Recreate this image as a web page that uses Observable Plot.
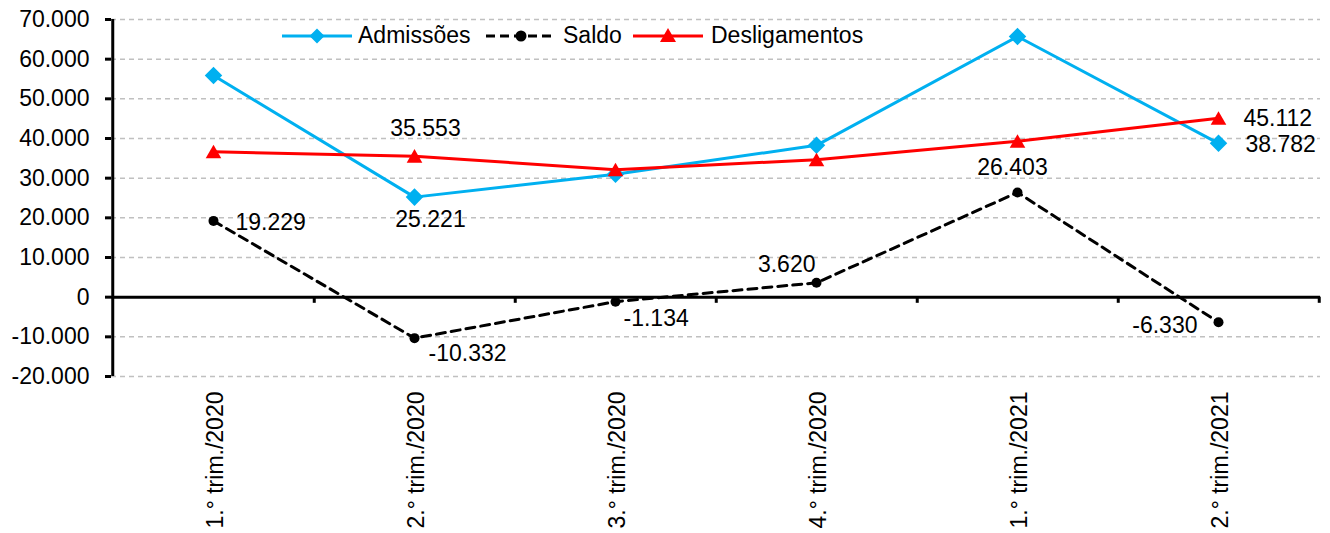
<!DOCTYPE html>
<html>
<head>
<meta charset="utf-8">
<script src="https://cdn.jsdelivr.net/npm/d3@7"></script>
<script src="https://cdn.jsdelivr.net/npm/@observablehq/plot@0.6"></script>
<style>
  html, body { margin: 0; padding: 0; background: #fff; }
  #wrap { position: relative; width: 1330px; height: 533px; font-family: "Liberation Sans", Arial, sans-serif; }
  .leg { position: absolute; font-size: 23px; line-height: 24px; color: #000; white-space: nowrap; }
  .sw { position: absolute; }
</style>
</head>
<body>
<div id="wrap"></div>
<script>
// ---- data ----
const categories = ["1.° trim./2020", "2.° trim./2020", "3.° trim./2020", "4.° trim./2020", "1.° trim./2021", "2.° trim./2021"];
const admissoes = [55879, 25221, 31006, 38280, 65723, 38782];
const desligamentos = [36650, 35553, 32140, 34660, 39320, 45112];
const saldo = [19229, -10332, -1134, 3620, 26403, -6330];
const yTicks = [-20000, -10000, 0, 10000, 20000, 30000, 40000, 50000, 60000, 70000];
const seriesNames = ["Admissões", "Saldo", "Desligamentos"];

// ---- layout / style ----
const W = 1330, H = 533;
const mL = 111, mR = 10, mT = 19, mB = 157;
const step = (W - mL - mR) / categories.length;
const colors = {"Admissões": "#00B0F0", "Saldo": "#000000", "Desligamentos": "#FF0000"};
const labelPlacement = [
  {s: "Saldo", i: 0, a: "start", dx: 22, dy: 2},
  {s: "Saldo", i: 1, a: "start", dx: 14, dy: 15},
  {s: "Saldo", i: 2, a: "start", dx: 8, dy: 17},
  {s: "Saldo", i: 3, a: "end", dx: -1, dy: -18},
  {s: "Saldo", i: 4, a: "middle", dx: -5, dy: -25},
  {s: "Saldo", i: 5, a: "end", dx: -21, dy: 3},
  {s: "Admissões", i: 1, a: "middle", dx: 16, dy: 23},
  {s: "Admissões", i: 5, a: "start", dx: 27, dy: 1},
  {s: "Desligamentos", i: 1, a: "middle", dx: 11, dy: -28},
  {s: "Desligamentos", i: 5, a: "start", dx: 25, dy: 0}
];

const values = {"Admissões": admissoes, "Saldo": saldo, "Desligamentos": desligamentos};
const rows = name => categories.map((c, i) => ({cat: c, v: values[name][i]}));

const loc = d3.formatLocale({decimal: ",", thousands: ".", grouping: [3], currency: ["", ""], minus: "-"});
const fmt = loc.format(",d");

const marks = [
  Plot.gridY(yTicks, {stroke: "#c0c0c0", strokeOpacity: 1, strokeWidth: 1.5, strokeDasharray: "5,4"}),
  Plot.axisY(yTicks, {tickFormat: fmt, tickSize: 6, tickPadding: 16, fontSize: 23, strokeWidth: 3, label: null}),
  Plot.axisX({tickRotate: -90, tickSize: 0, tickPadding: 15, fontSize: 23, dx: 2, label: null}),
  Plot.ruleX([categories[0]], {dx: -step / 2, y1: -20000, y2: 70000, stroke: "#000", strokeWidth: 3}),
  Plot.ruleY([0], {stroke: "#000", strokeWidth: 3}),
  Plot.ruleX(categories, {x: d => d, y1: 0, y2: -1550, dx: step / 2, stroke: "#000", strokeWidth: 3}),
  // Admissões
  Plot.line(rows("Admissões"), {x: "cat", y: "v", stroke: colors["Admissões"], strokeWidth: 3}),
  Plot.dot(rows("Admissões"), {x: "cat", y: "v", symbol: "diamond2", r: 7.9, fill: colors["Admissões"], stroke: "none"}),
  // Saldo
  Plot.line(rows("Saldo"), {x: "cat", y: "v", stroke: colors["Saldo"], strokeWidth: 3, strokeDasharray: "9,6"}),
  Plot.dot(rows("Saldo"), {x: "cat", y: "v", r: 5, fill: colors["Saldo"], stroke: "none"}),
  // Desligamentos
  Plot.line(rows("Desligamentos"), {x: "cat", y: "v", stroke: colors["Desligamentos"], strokeWidth: 3}),
  Plot.dot(rows("Desligamentos"), {x: "cat", y: "v", symbol: "triangle", r: 5.8, fill: colors["Desligamentos"], stroke: "none", dy: 2})
];

for (const p of labelPlacement) {
  const d = [{cat: categories[p.i], v: values[p.s][p.i]}];
  marks.push(Plot.text(d, {x: "cat", y: "v", text: r => fmt(r.v), textAnchor: p.a, dx: p.dx, dy: p.dy, fontSize: 23, fill: "#000"}));
}

const chart = Plot.plot({
  width: W, height: H,
  marginLeft: mL, marginRight: mR, marginTop: mT, marginBottom: mB,
  style: {fontFamily: '"Liberation Sans", Arial, sans-serif', color: "#000", background: "#fff"},
  x: {type: "point", domain: categories, padding: 0.5, align: 0.5},
  y: {domain: [-20000, 70000]},
  marks
});

const wrap = document.getElementById("wrap");
wrap.appendChild(chart);

// ---- legend (overlay) ----
const legendPos = [
  {name: "Admissões", sx: 282, tx: 358},
  {name: "Saldo", sx: 486, tx: 563},
  {name: "Desligamentos", sx: 633, tx: 711}
];
const cy = 36;
for (const lp of legendPos) {
  const c = colors[lp.name];
  const sw = document.createElement("div");
  sw.className = "sw";
  sw.style.left = lp.sx + "px";
  sw.style.top = (cy - 10) + "px";
  let marker;
  if (lp.name === "Admissões") marker = `<polygon points="35,2.5 42.5,10 35,17.5 27.5,10" fill="${c}"/>`;
  else if (lp.name === "Saldo") marker = `<circle cx="35" cy="10" r="5.5" fill="${c}"/>`;
  else marker = `<polygon points="35,2 43,16 27,16" fill="${c}"/>`;
  const dash = lp.name === "Saldo" ? 'stroke-dasharray="9,5"' : "";
  sw.innerHTML = `<svg width="70" height="20" style="display:block"><line x1="0" y1="10" x2="70" y2="10" stroke="${c}" stroke-width="3" ${dash}/>${marker}</svg>`;
  wrap.appendChild(sw);
  const t = document.createElement("div");
  t.className = "leg";
  t.style.left = lp.tx + "px";
  t.style.top = (cy - 13) + "px";
  t.textContent = lp.name;
  wrap.appendChild(t);
}
</script>
</body>
</html>
